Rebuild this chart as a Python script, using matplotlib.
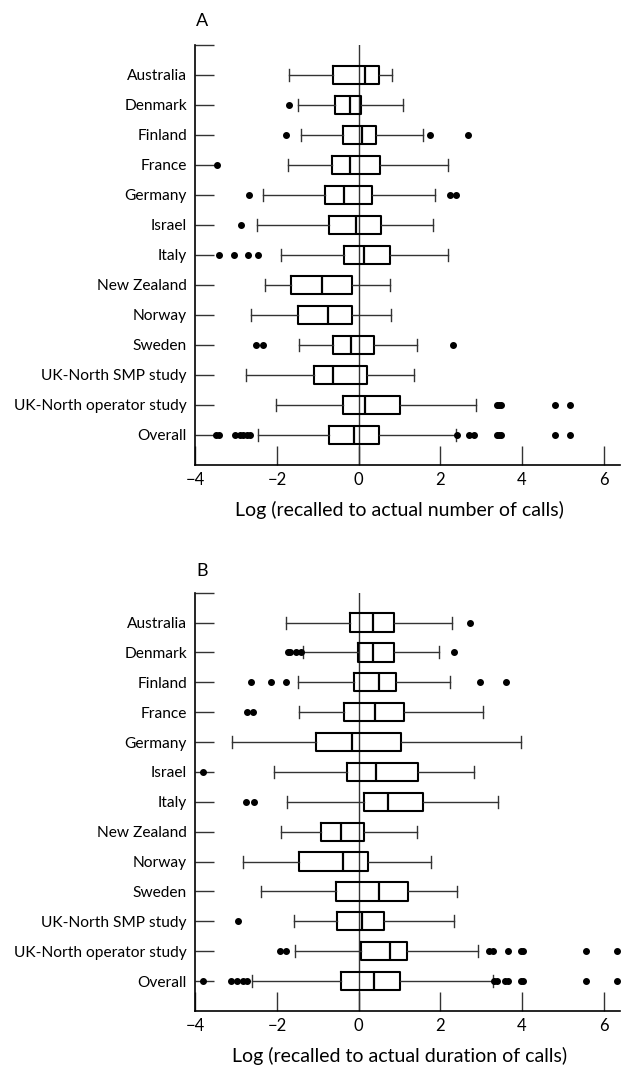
import matplotlib.pyplot as plt

plt.rcParams['font.family'] = ['Lato', 'DejaVu Sans']

countries = ['Australia', 'Denmark', 'Finland', 'France', 'Germany', 'Israel', 'Italy',
             'New Zealand', 'Norway', 'Sweden', 'UK-North SMP study',
             'UK-North operator study', 'Overall']

# A: log (recalled to actual number of calls)
a_whislo = [-1.71, -1.49, -1.42, -1.73, -2.33, -2.49, -1.89, -2.29, -2.64, -1.47, -2.77, -2.02, -2.47]
a_q1 = [-0.63, -0.58, -0.38, -0.64, -0.83, -0.72, -0.35, -1.66, -1.48, -0.63, -1.09, -0.38, -0.72]
a_med = [0.15, -0.20, 0.09, -0.20, -0.35, -0.06, 0.12, -0.90, -0.75, -0.19, -0.62, 0.15, -0.11]
a_q3 = [0.50, 0.07, 0.42, 0.52, 0.34, 0.56, 0.78, -0.17, -0.16, 0.38, 0.20, 1.02, 0.51]
a_whishi = [0.82, 1.09, 1.58, 2.20, 1.88, 1.82, 2.18, 0.78, 0.79, 1.42, 1.35, 2.87, 2.39]
a_fliers = [
    [],
    [-1.70],
    [-1.77, 1.76, 2.68],
    [-3.46],
    [-2.68, 2.24, 2.38],
    [-2.87],
    [-3.42, -3.05, -2.70, -2.47],
    [],
    [],
    [-2.52, -2.34, 2.32],
    [],
    [3.40, 3.45, 3.49, 4.81, 5.17],
    [-3.49, -3.43, -3.04, -2.90, -2.82, -2.74, -2.66, 2.40, 2.71, 2.82, 3.40, 3.45, 3.49, 4.81, 5.17],
]

# B: log (recalled to actual duration of calls)
b_whislo = [-1.79, -1.35, -1.48, -1.46, -3.09, -2.07, -1.75, -1.89, -2.82, -2.39, -1.58, -1.55, -2.62]
b_q1 = [-0.21, -0.01, -0.11, -0.35, -1.04, -0.29, 0.12, -0.91, -1.45, -0.56, -0.53, 0.07, -0.43]
b_med = [0.35, 0.36, 0.51, 0.40, -0.15, 0.42, 0.72, -0.43, -0.38, 0.51, 0.09, 0.76, 0.38]
b_q3 = [0.87, 0.86, 0.92, 1.12, 1.04, 1.46, 1.57, 0.12, 0.22, 1.22, 0.61, 1.18, 1.02]
b_whishi = [2.28, 1.98, 2.23, 3.04, 3.99, 2.82, 3.41, 1.44, 1.78, 2.40, 2.34, 2.93, 3.30]
b_fliers = [
    [2.73],
    [-1.73, -1.67, -1.53, -1.40, 2.34],
    [-2.64, -2.15, -1.77, 2.98, 3.60],
    [-2.73, -2.58],
    [],
    [-3.80],
    [-2.77, -2.56],
    [],
    [],
    [],
    [-2.96],
    [-1.93, -1.77, 3.20, 3.28, 3.67, 3.98, 4.02, 5.57, 6.34],
    [-3.80, -3.12, -2.98, -2.84, -2.73, 3.32, 3.40, 3.59, 3.67, 3.98, 4.02, 5.57, 6.34],
]

fig = plt.figure(figsize=(6.23, 10.66), dpi=100)
ax_a = fig.add_axes([0.3135, 0.564, 0.6815, 0.394])
ax_b = fig.add_axes([0.3135, 0.0516, 0.6815, 0.3924])


def draw(ax, lo, q1, med, q3, hi, fl, xlabel):
    stats = []
    for i in range(len(countries)):
        stats.append(dict(whislo=lo[i], q1=q1[i], med=med[i], q3=q3[i],
                          whishi=hi[i], fliers=fl[i], label=countries[i]))
    ax.axvline(0, color='#333333', lw=1.0, zorder=0)
    ax.bxp(stats, positions=range(1, len(countries) + 1), widths=0.61, capwidths=0.4,
           orientation='horizontal', manage_ticks=False,
           boxprops=dict(color='black', lw=1.5),
           medianprops=dict(color='black', lw=1.6),
           whiskerprops=dict(color='#333333', lw=1.0),
           capprops=dict(color='#333333', lw=1.0),
           flierprops=dict(marker='o', markerfacecolor='black', markeredgecolor='black',
                           markersize=4, linestyle='none'))
    ax.set_ylim(len(countries) + 1, 0)
    ax.set_yticks(range(len(countries) + 1))
    ax.set_yticklabels([''] + countries)
    ax.set_xlim(-4, 6.4)
    ax.set_xticks([-4, -2, 0, 2, 4, 6])
    ax.spines['top'].set_visible(False)
    ax.spines['right'].set_visible(False)
    ax.spines['left'].set_linewidth(1.2)
    ax.spines['bottom'].set_linewidth(1.2)
    ax.tick_params(axis='both', direction='in', length=14, width=1.0, color='#333333')
    ax.tick_params(axis='y', pad=6, labelsize=11.2)
    ax.tick_params(axis='x', pad=5, labelsize=12)
    ax.set_xlabel(xlabel, fontsize=14)
    ax.xaxis.set_label_coords(0.48, -0.085)


draw(ax_a, a_whislo, a_q1, a_med, a_q3, a_whishi, a_fliers,
     'Log (recalled to actual number of calls)')
draw(ax_b, b_whislo, b_q1, b_med, b_q3, b_whishi, b_fliers,
     'Log (recalled to actual duration of calls)')

fig.text(202 / 623, 1 - 21 / 1066, 'A', fontsize=13, ha='center', va='center')
fig.text(202 / 623, 1 - 571 / 1066, 'B', fontsize=13, ha='center', va='center')

fig.savefig('out.png', dpi=100)
